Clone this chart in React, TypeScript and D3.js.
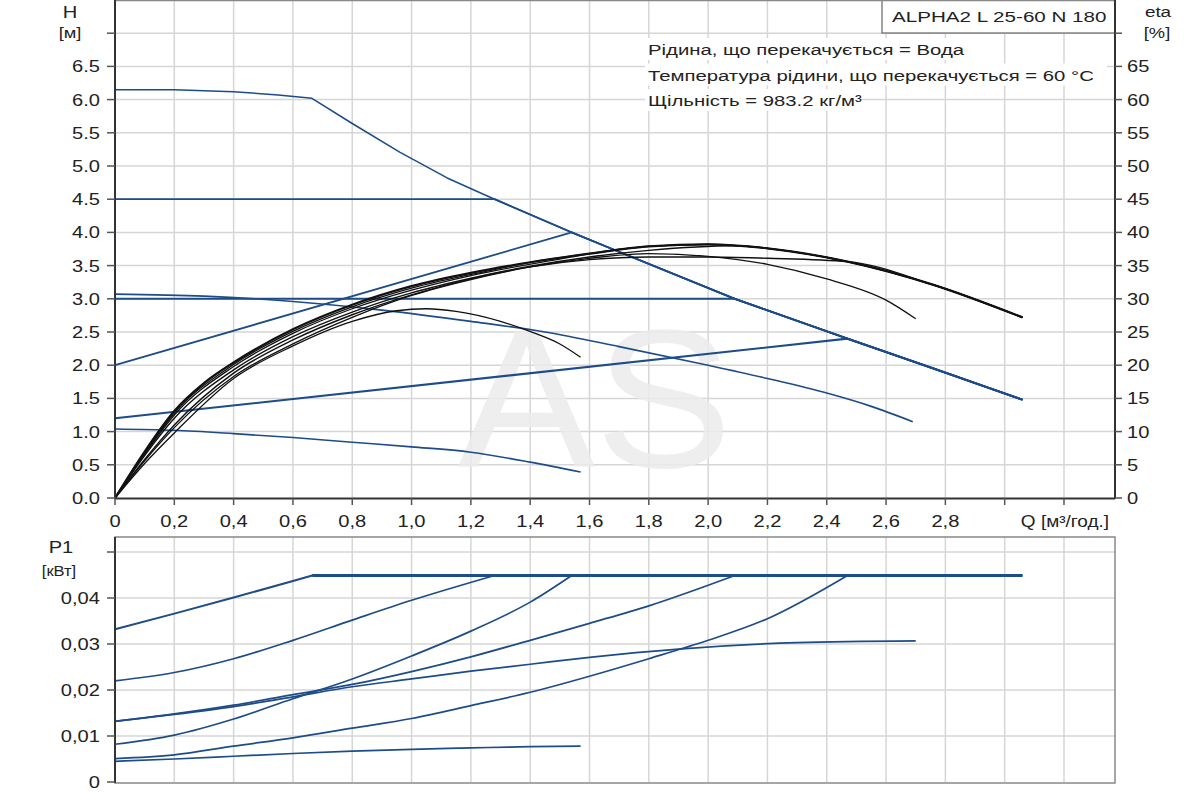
import * as d3 from 'd3'
import type { ReactNode } from 'react'

type Pt = [number, number]

// x-axis (Q, m³/h)
const qGrid = [0.2, 0.4, 0.6, 0.8, 1.0, 1.2, 1.4, 1.6, 1.8, 2.0, 2.2, 2.4, 2.6, 2.8, 3.0, 3.2]
const qLabels = [0, 0.2, 0.4, 0.6, 0.8, 1.0, 1.2, 1.4, 1.6, 1.8, 2.0, 2.2, 2.4, 2.6, 2.8]
const hTicks = [0, 0.5, 1, 1.5, 2, 2.5, 3, 3.5, 4, 4.5, 5, 5.5, 6, 6.5, 7]
const hLabels = [0, 0.5, 1, 1.5, 2, 2.5, 3, 3.5, 4, 4.5, 5, 5.5, 6, 6.5]
const etaLabels = [0, 5, 10, 15, 20, 25, 30, 35, 40, 45, 50, 55, 60, 65]
const pTicks = [0, 0.01, 0.02, 0.03, 0.04, 0.05]
const pLabels = [0, 0.01, 0.02, 0.03, 0.04]

const infoLines = [
  'Рідина, що перекачується = Вода',
  'Температура рідини, що перекачується = 60 °C',
  'Щільність = 983.2 кг/м³',
]
const modelName = 'ALPHA2 L 25-60 N 180'

// H-Q curves [Q, H]
const maxH: Pt[] = [[0, 6.15], [0.2, 6.15], [0.4, 6.12], [0.55, 6.07], [0.664, 6.02], [0.8, 5.64], [0.96, 5.21], [1.12, 4.82], [1.28, 4.5], [1.54, 4.0], [1.66, 3.78], [2.09, 3.0], [2.47, 2.4], [2.76, 1.95], [3.06, 1.48]]
const cp45H: Pt[] = [[0, 4.5], [1.28, 4.5]]
const cp30H: Pt[] = [[0, 3.0], [2.09, 3.0]]
const pp1H: Pt[] = [[0, 2.0], [1.54, 4.0]]
const pp2H: Pt[] = [[0, 1.2], [2.47, 2.4]]
const speed2H: Pt[] = [[0, 3.07], [0.3, 3.04], [0.6, 2.96], [0.9, 2.83], [1.2, 2.66], [1.45, 2.5], [1.7, 2.28], [2.0, 2.0], [2.2, 1.8], [2.4, 1.58], [2.55, 1.38], [2.69, 1.15]]
const speed1H: Pt[] = [[0, 1.04], [0.2, 1.02], [0.4, 0.97], [0.6, 0.91], [0.8, 0.84], [1.0, 0.77], [1.2, 0.69], [1.4, 0.54], [1.57, 0.39]]

// efficiency curves [Q, eta %]
const maxEta: Pt[] = [[0, 0], [0.1, 7], [0.2, 13.1], [0.3, 17.3], [0.4, 20.4], [0.6, 25.4], [0.8, 29.1], [1.0, 31.9], [1.2, 33.9], [1.4, 35.5], [1.6, 36.8], [1.8, 37.9], [2.0, 38.2], [2.2, 37.6], [2.47, 35.6], [2.76, 32.1], [3.06, 27.2]]
const cp45Eta: Pt[] = [[0, 0], [0.1, 6.8], [0.2, 12.8], [0.4, 20.1], [0.6, 25.1], [0.8, 28.8], [1.0, 31.6], [1.28, 34.4]]
const pp1Eta: Pt[] = [[0, 0], [0.1, 6.6], [0.2, 12.5], [0.4, 19.8], [0.6, 24.8], [0.8, 28.5], [1.0, 31.3], [1.2, 33.5], [1.54, 36.3]]
const cp30Eta: Pt[] = [[0, 0], [0.1, 6.4], [0.2, 12.0], [0.4, 19.3], [0.6, 24.3], [0.8, 28.0], [1.0, 30.9], [1.2, 33.1], [1.4, 34.9], [1.6, 36.3], [1.8, 37.3], [2.09, 38.0]]
const pp2Eta: Pt[] = [[0, 0], [0.1, 5.8], [0.2, 11.0], [0.4, 18.8], [0.6, 23.8], [0.8, 27.6], [1.0, 30.6], [1.2, 33.0], [1.4, 34.8], [1.6, 35.9], [1.8, 36.3], [2.0, 36.3], [2.2, 36.1], [2.47, 35.6]]
const speed2Eta: Pt[] = [[0, 0], [0.1, 5.6], [0.2, 10.6], [0.4, 18.3], [0.6, 23.2], [0.8, 27.2], [1.0, 30.5], [1.2, 32.9], [1.4, 34.8], [1.6, 36.1], [1.8, 36.8], [2.0, 36.4], [2.2, 35.2], [2.4, 33.0], [2.6, 29.8], [2.7, 27.0]]
const speed1Eta: Pt[] = [[0, 0], [0.1, 5.2], [0.2, 9.8], [0.4, 18.0], [0.6, 22.9], [0.8, 26.6], [0.95, 28.2], [1.05, 28.5], [1.15, 28.1], [1.3, 26.6], [1.41, 24.9], [1.5, 23.2], [1.57, 21.2]]

// power curves [Q, P1 kW]
const maxP1: Pt[] = [[0, 0.0332], [0.2, 0.0366], [0.4, 0.0401], [0.6, 0.0437], [0.665, 0.0449], [3.06, 0.0449]]
const cp45P1: Pt[] = [[0, 0.022], [0.2, 0.0238], [0.4, 0.0268], [0.6, 0.0308], [0.8, 0.0352], [1.0, 0.0395], [1.28, 0.0449]]
const pp1P1: Pt[] = [[0, 0.0082], [0.2, 0.0102], [0.4, 0.0137], [0.6, 0.0181], [0.8, 0.0224], [1.0, 0.0274], [1.2, 0.0328], [1.4, 0.0391], [1.54, 0.0449]]
const cp30P1: Pt[] = [[0, 0.0132], [0.2, 0.0148], [0.4, 0.0167], [0.6, 0.019], [0.8, 0.0212], [1.0, 0.024], [1.2, 0.0272], [1.4, 0.0308], [1.6, 0.0345], [1.8, 0.0383], [2.09, 0.0449]]
const speed2P1: Pt[] = [[0, 0.0132], [0.2, 0.0147], [0.4, 0.0164], [0.6, 0.0185], [0.8, 0.0207], [1.0, 0.0224], [1.2, 0.0241], [1.4, 0.0256], [1.6, 0.0271], [1.9, 0.0289], [2.3, 0.0303], [2.7, 0.0307]]
const pp2P1: Pt[] = [[0, 0.0051], [0.2, 0.0059], [0.4, 0.0078], [0.6, 0.0096], [0.8, 0.0117], [1.0, 0.0138], [1.2, 0.0166], [1.4, 0.0195], [1.6, 0.023], [1.8, 0.0268], [2.0, 0.0308], [2.2, 0.0355], [2.47, 0.0449]]
const speed1P1: Pt[] = [[0, 0.0045], [0.2, 0.005], [0.4, 0.0056], [0.6, 0.0062], [0.8, 0.0067], [1.0, 0.0071], [1.2, 0.0074], [1.4, 0.0077], [1.57, 0.0078]]

const BLUE = '#1d4c88'
const GRID = '#d6d6d6'
const INK = '#222'
const FONT = '"Liberation Sans", Arial, sans-serif'

const left = 115
const right = 1115

const x = d3.scaleLinear().domain([0, 3.372]).range([left, right])
const yH = d3.scaleLinear().domain([0, 7.5]).range([498, 0])
const yEta = d3.scaleLinear().domain([0, 75]).range([498, 0])
const yP = d3.scaleLinear().domain([0, 0.05326]).range([782, 537])

const comma = (v: number) => (v === 0 ? '0' : d3.format('.1f')(v).replace('.', ','))
const commaP = (v: number) => (v === 0 ? '0' : d3.format('.2f')(v).replace('.', ','))

// curves that merge into the max curve continue along it
const after = (curve: Pt[], q: number) => curve.filter((p) => p[0] > q + 1e-6)

// the source picture is stretched sideways, so text is drawn a bit wider than tall
function T(props: { x: number; y: number; size?: number; sx?: number; anchor?: 'start' | 'middle' | 'end'; children: ReactNode }) {
  const { x, y, size = 16.5, sx = 1.22, anchor = 'start', children } = props
  return (
    <text transform={`translate(${x},${y}) scale(${sx},1)`} textAnchor={anchor} fontSize={size} fill={INK}>
      {children}
    </text>
  )
}

export default function App() {
  const lineH = d3.line<Pt>().x((d) => x(d[0])).y((d) => yH(d[1]))
  const smoothH = d3.line<Pt>().x((d) => x(d[0])).y((d) => yH(d[1])).curve(d3.curveMonotoneX)
  const lineEta = d3.line<Pt>().x((d) => x(d[0])).y((d) => yEta(d[1])).curve(d3.curveMonotoneX)
  const lineP = d3.line<Pt>().x((d) => x(d[0])).y((d) => yP(d[1])).curve(d3.curveMonotoneX)
  const straightP = d3.line<Pt>().x((d) => x(d[0])).y((d) => yP(d[1]))

  const hCurves = [
    { d: smoothH(speed1H), w: 1.6 },
    { d: smoothH(speed2H), w: 1.6 },
    { d: lineH(maxH), w: 1.5 },
    { d: lineH([...cp45H, ...after(maxH, 1.28)]), w: 1.8 },
    { d: lineH([...pp1H, ...after(maxH, 1.54)]), w: 1.8 },
    { d: lineH([...cp30H, ...after(maxH, 2.09)]), w: 1.9 },
    { d: lineH([...pp2H, ...after(maxH, 2.47)]), w: 2.1 },
  ]
  const etaCurves = [
    { d: speed1Eta, w: 1.3 },
    { d: speed2Eta, w: 1.3 },
    { d: [...cp45Eta, ...after(maxEta, 1.28)], w: 1.3 },
    { d: [...pp1Eta, ...after(maxEta, 1.54)], w: 1.3 },
    { d: [...cp30Eta, ...after(maxEta, 2.09)], w: 1.4 },
    { d: [...pp2Eta, ...after(maxEta, 2.47)], w: 1.4 },
    { d: maxEta, w: 2.2 },
  ]
  const pCurves = [
    { d: lineP(speed1P1), w: 1.7 },
    { d: lineP(pp2P1), w: 1.7 },
    { d: lineP(speed2P1), w: 1.7 },
    { d: lineP(cp30P1), w: 1.8 },
    { d: lineP(pp1P1), w: 1.7 },
    { d: lineP(cp45P1), w: 1.7 },
    { d: straightP(maxP1), w: 2.0 },
    { d: straightP(after(maxP1, 0.6)), w: 3.0 },
  ]

  return (
    <svg
      width={1200}
      height={800}
      style={{ position: 'absolute', left: 0, top: 0, background: '#fff' }}
      fontFamily={FONT}
    >
      <rect width={1200} height={800} fill="#fff" />

      {/* top chart grid */}
      {qGrid.map((q) => (
        <line key={'vt' + q} x1={x(q)} x2={x(q)} y1={0} y2={498} stroke={GRID} strokeWidth={1.5} />
      ))}
      {hTicks.slice(1).map((h) => (
        <line key={'ht' + h} x1={left} x2={right} y1={yH(h)} y2={yH(h)} stroke={GRID} strokeWidth={1.5} />
      ))}

      {/* watermark */}
      <text
        transform="translate(595,467) scale(1.05,1)"
        textAnchor="middle"
        fontSize={196}
        fill="#ececec"
        opacity={0.85}
      >
        AS
      </text>

      {/* info text */}
      {infoLines.map((t, i) => (
        <g key={t}>
          <rect x={645} y={38 + i * 25.5} width={i === 1 ? 462 : i === 0 ? 325 : 215} height={22} fill="#fff" />
          <T x={648} y={55 + i * 25.5} size={15.5} sx={1.31}>
            {t}
          </T>
        </g>
      ))}
      <rect x={882} y={-1} width={233} height={34} fill="#fff" stroke="#666" strokeWidth={1.2} />
      <T x={892} y={22} size={15.5} sx={1.33}>
        {modelName}
      </T>

      {/* top chart curves */}
      {hCurves.map((c, i) => (
        <path key={'h' + i} d={c.d || undefined} fill="none" stroke={BLUE} strokeWidth={c.w} strokeLinejoin="round" />
      ))}
      {etaCurves.map((c, i) => (
        <path key={'e' + i} d={lineEta(c.d) || undefined} fill="none" stroke="#111" strokeWidth={c.w} strokeLinejoin="round" />
      ))}

      {/* top chart frame and axes */}
      <line x1={left} x2={right} y1={0.5} y2={0.5} stroke="#888" strokeWidth={1.5} />
      <line x1={left} x2={left} y1={0} y2={499} stroke="#333" strokeWidth={2} />
      <line x1={right} x2={right} y1={0} y2={499} stroke="#333" strokeWidth={2} />
      <line x1={left} x2={right} y1={498.5} y2={498.5} stroke="#333" strokeWidth={2} />
      {hTicks.map((h) => (
        <line key={'tkh' + h} x1={107} x2={left} y1={yH(h)} y2={yH(h)} stroke="#555" strokeWidth={1.5} />
      ))}
      {hLabels.map((h) => (
        <T key={'lh' + h} x={100} y={yH(h) + 6} anchor="end">
          {d3.format('.1f')(h)}
        </T>
      ))}
      {hTicks.map((h) => (
        <line key={'tke' + h} x1={right} x2={right + 7} y1={yH(h)} y2={yH(h)} stroke="#555" strokeWidth={1.5} />
      ))}
      {etaLabels.map((e) => (
        <T key={'le' + e} x={1127} y={yEta(e) + 6}>
          {e}
        </T>
      ))}
      {[0, ...qGrid].map((q) => (
        <line key={'tkq' + q} x1={x(q)} x2={x(q)} y1={498} y2={505} stroke="#555" strokeWidth={1.5} />
      ))}
      {qLabels.map((q) => (
        <T key={'lq' + q} x={x(q)} y={527} anchor="middle">
          {comma(q)}
        </T>
      ))}
      <T x={1109} y={527} anchor="end" sx={1.15}>
        Q [м³/год.]
      </T>
      <T x={70} y={18} anchor="middle">H</T>
      <T x={70} y={38} size={15} anchor="middle">[м]</T>
      <T x={1158} y={17} size={15.5} anchor="middle">eta</T>
      <T x={1157} y={38} size={15} anchor="middle">[%]</T>

      {/* bottom chart grid */}
      {qGrid.map((q) => (
        <line key={'vb' + q} x1={x(q)} x2={x(q)} y1={537} y2={782} stroke={GRID} strokeWidth={1.5} />
      ))}
      {pTicks.slice(1).map((p) => (
        <line key={'hb' + p} x1={left} x2={right} y1={yP(p)} y2={yP(p)} stroke={GRID} strokeWidth={1.5} />
      ))}

      {/* bottom chart curves */}
      {pCurves.map((c, i) => (
        <path key={'p' + i} d={c.d || undefined} fill="none" stroke={BLUE} strokeWidth={c.w} strokeLinejoin="round" />
      ))}

      {/* bottom chart frame and axes */}
      <rect x={left} y={537} width={right - left} height={246} fill="none" stroke="#888" strokeWidth={1.5} />
      <line x1={left} x2={left} y1={537} y2={783} stroke="#333" strokeWidth={2} />
      {pTicks.map((p) => (
        <line key={'tkp' + p} x1={107} x2={left} y1={yP(p)} y2={yP(p)} stroke="#555" strokeWidth={1.5} />
      ))}
      {pLabels.map((p) => (
        <T key={'lp' + p} x={100} y={yP(p) + 6} anchor="end">
          {commaP(p)}
        </T>
      ))}
      <T x={61} y={553} anchor="middle">P1</T>
      <T x={59} y={576} size={15} anchor="middle" sx={1.1}>[кВт]</T>
    </svg>
  )
}
